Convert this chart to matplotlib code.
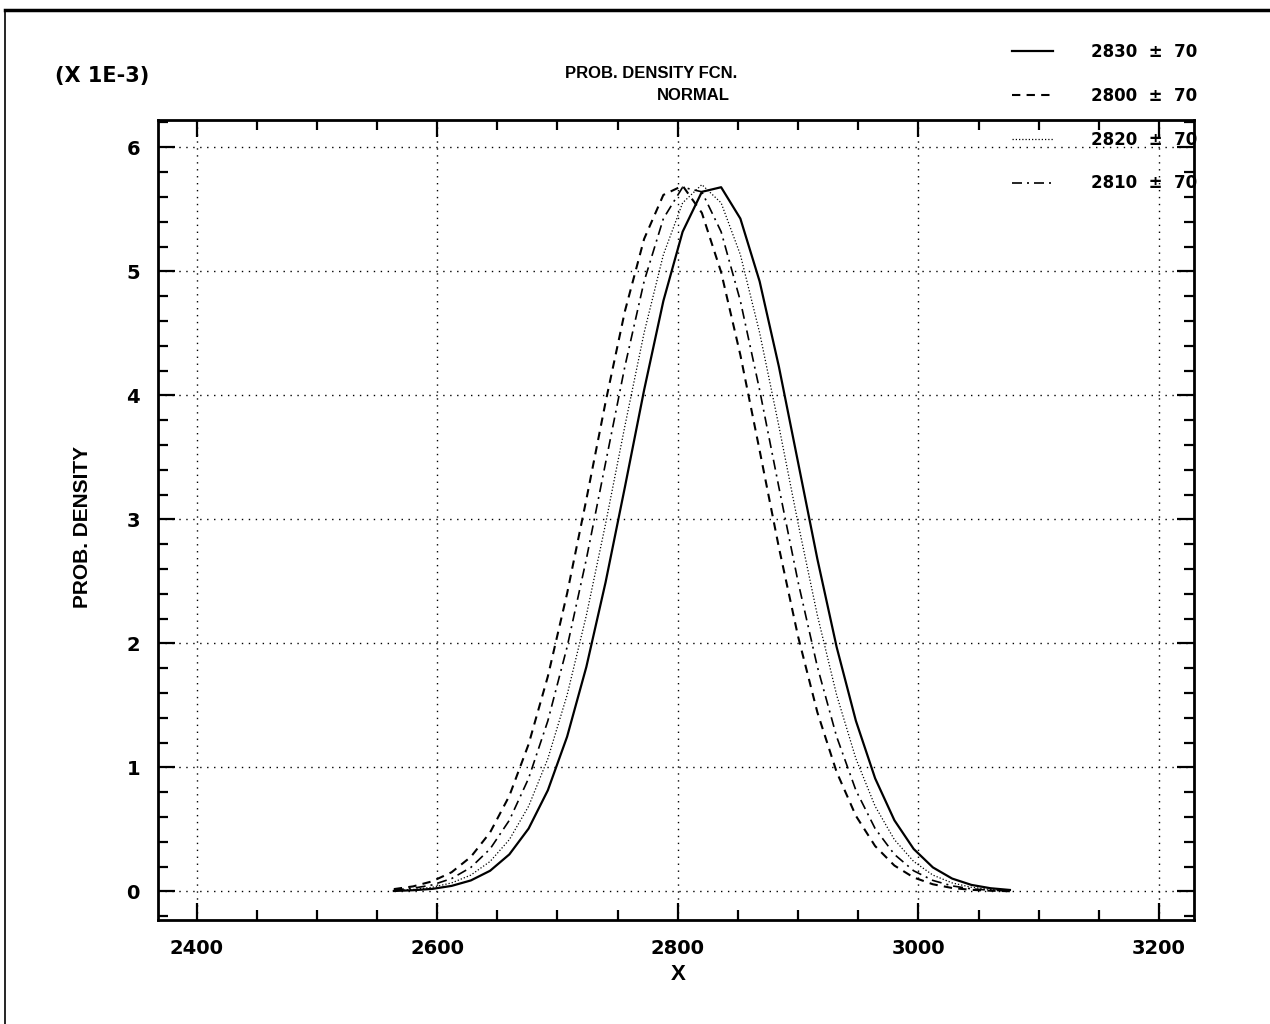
import matplotlib
matplotlib.use("Agg")
import matplotlib.pyplot as plt
from matplotlib.lines import Line2D
from matplotlib.ticker import MultipleLocator

# x grid used by the curves (same for all four)
x_vals = [2564, 2580, 2596, 2612, 2628, 2644, 2660, 2676, 2692, 2708, 2724,
          2740, 2756, 2772, 2788, 2804, 2820, 2836, 2852, 2868, 2884, 2900,
          2916, 2932, 2948, 2964, 2980, 2996, 3012, 3028, 3044, 3060, 3076]

# densities, in units of 1E-3
pdf_2830 = [0.004, 0.010, 0.021, 0.045, 0.089, 0.167, 0.299, 0.507, 0.816, 1.248, 1.811,
            2.494, 3.259, 4.043, 4.761, 5.319, 5.641, 5.678, 5.425, 4.919, 4.232, 3.457,
            2.680, 1.971, 1.376, 0.912, 0.574, 0.343, 0.194, 0.104, 0.053, 0.026, 0.012]
pdf_2800 = [0.019, 0.041, 0.082, 0.155, 0.279, 0.476, 0.771, 1.187, 1.734, 2.403, 3.161,
            3.947, 4.677, 5.261, 5.616, 5.690, 5.471, 4.993, 4.325, 3.556, 2.774, 2.054,
            1.444, 0.963, 0.610, 0.366, 0.209, 0.113, 0.058, 0.028, 0.013, 0.006, 0.002]
pdf_2820 = [0.007, 0.016, 0.034, 0.069, 0.132, 0.242, 0.418, 0.687, 1.071, 1.584, 2.226,
            2.966, 3.752, 4.505, 5.134, 5.552, 5.699, 5.552, 5.134, 4.505, 3.752, 2.966,
            2.226, 1.584, 1.071, 0.687, 0.418, 0.242, 0.132, 0.069, 0.034, 0.016, 0.007]
pdf_2810 = [0.012, 0.026, 0.053, 0.104, 0.194, 0.343, 0.574, 0.912, 1.376, 1.971, 2.680,
            3.457, 4.232, 4.919, 5.425, 5.678, 5.641, 5.319, 4.761, 4.043, 3.259, 2.494,
            1.811, 1.248, 0.816, 0.507, 0.299, 0.167, 0.089, 0.045, 0.021, 0.010, 0.004]

means = [2830, 2800, 2820, 2810]
sigma = 70
x_ticks = [2400, 2600, 2800, 3000, 3200]
y_ticks = [0, 1, 2, 3, 4, 5, 6]

num_font = "DejaVu Sans"
txt_font = "Liberation Sans"

W, H = 1270, 1024
fig = plt.figure(figsize=(W / 100, H / 100), dpi=100)
ax = fig.add_axes([158 / W, 1 - 920 / H, (1194 - 158) / W, (920 - 120) / H])

styles = [
    dict(linestyle="-", linewidth=1.6),
    dict(linestyle=(0, (4, 3)), linewidth=1.5),
    dict(linestyle=(0, (1, 1.6)), linewidth=0.9),
    dict(linestyle=(0, (6, 3, 1.2, 3)), linewidth=1.2),
]
curves = [pdf_2830, pdf_2800, pdf_2820, pdf_2810]
handles = []
for ys, st in zip(curves, styles):
    ln, = ax.plot(x_vals, ys, color="black", **st)
    handles.append(ln)

ax.set_xlim(2368, 3229)
ax.set_ylim(-0.23, 6.22)

# ticks: inward on all four sides, major + minor
ax.set_xticks(x_ticks)
ax.set_yticks(y_ticks)
ax.xaxis.set_minor_locator(MultipleLocator(50))
ax.yaxis.set_minor_locator(MultipleLocator(0.2))
ax.tick_params(which="both", direction="in", top=True, right=True, width=1.6)
ax.tick_params(which="major", length=12)
ax.tick_params(which="minor", length=7)
ax.tick_params(axis="x", which="major", pad=14)
ax.tick_params(axis="y", which="major", pad=13)
for lab in ax.get_xticklabels() + ax.get_yticklabels():
    lab.set_fontfamily(num_font)
    lab.set_fontweight("bold")
    lab.set_fontsize(14)

for sp in ax.spines.values():
    sp.set_linewidth(2)

# dotted grid at the major ticks
ax.grid(True, which="major", color="black", linestyle=(0, (1, 4)), linewidth=1)

# titles and axis labels
fig.text(651 / W, 1 - 74 / H, "PROB. DENSITY FCN.", ha="center", va="center",
         family=txt_font, fontweight="bold", fontsize=12)
fig.text(693 / W, 1 - 96 / H, "NORMAL", ha="center", va="center",
         family=txt_font, fontweight="bold", fontsize=12)
fig.text(55 / W, 1 - 76 / H, "(X 1E-3)", ha="left", va="center",
         family=num_font, fontweight="bold", fontsize=15)
fig.text(82 / W, 1 - 527 / H, "PROB. DENSITY", ha="center", va="center",
         rotation=90, family=txt_font, fontweight="bold", fontsize=15)
fig.text(678 / W, 1 - 975 / H, "X", ha="center", va="center",
         family=txt_font, fontweight="bold", fontsize=16)

# legend in the top right corner
labels = [f"{m}  \u00b1  {sigma}" for m in means]
leg = fig.legend(handles, labels, loc="upper right",
                 bbox_to_anchor=(1197 / W, 1 - 43 / H), frameon=False,
                 handlelength=2.5, handletextpad=2.25, labelspacing=1.55,
                 borderpad=0, borderaxespad=0,
                 prop=dict(family=num_font, weight="bold", size=12))

# page frame (top and left edges)
fig.add_artist(Line2D([5 / W, 1], [1 - 10 / H, 1 - 10 / H], color="black", linewidth=2.5))
fig.add_artist(Line2D([5 / W, 5 / W], [0, 1 - 10 / H], color="black", linewidth=1.2))

fig.savefig("out.png", dpi=100)
plt.close(fig)
